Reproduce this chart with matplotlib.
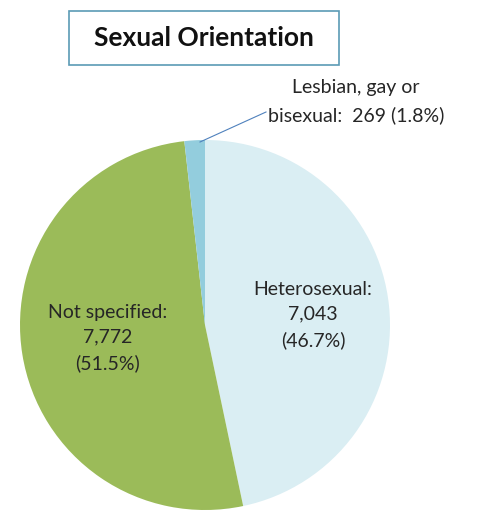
import matplotlib
matplotlib.use("Agg")
import matplotlib.pyplot as plt
from matplotlib.patches import Rectangle

categories = ["Heterosexual", "Not specified", "Lesbian, gay or bisexual"]
counts = [7043, 7772, 269]
colors = ["#DAEEF3", "#9BBB59", "#93CDDD"]
title = "Sexual Orientation"

W, H = 488, 513
fig = plt.figure(figsize=(W / 100, H / 100), dpi=100)
ax = fig.add_axes([0, 0, 1, 1])
ax.set_xlim(0, W)
ax.set_ylim(0, H)
ax.set_aspect("equal")
ax.axis("off")

total = sum(counts)
pct = [100 * c / total for c in counts]

cx, cy, r = 205, H - 325, 185
ax.pie(counts, colors=colors, startangle=90, counterclock=False,
       center=(cx, cy), radius=r, frame=False,
       wedgeprops=dict(linewidth=0))
ax.set_xlim(0, W)
ax.set_ylim(0, H)

font = "Lato"
lc = "#262626"
fs = 14

ax.text(313, H - 315, f"{categories[0]}:\n{counts[0]:,}\n({pct[0]:.1f}%)",
        ha="center", va="center", fontsize=fs, family=font, color=lc,
        linespacing=1.55)
ax.text(108, H - 338, f"{categories[1]}:\n{counts[1]:,}\n({pct[1]:.1f}%)",
        ha="center", va="center", fontsize=fs, family=font, color=lc,
        linespacing=1.55)
ax.text(356, H - 88, "Lesbian, gay or", ha="center", va="center",
        fontsize=fs, family=font, color=lc)
ax.text(268, H - 115, f"bisexual:  {counts[2]} ({pct[2]:.1f}%)",
        ha="left", va="center", fontsize=fs, family=font, color=lc)
ax.plot([200, 266], [H - 142, H - 112], color="#4F81BD", lw=0.8)

# title box
ax.add_patch(Rectangle((69, H - 65), 270, 54, facecolor="white",
                       edgecolor="#5B9BB5", lw=1.2))
ax.text(204, H - 38, title, ha="center", va="center", fontsize=19,
        fontweight="bold", family=font, color="#111111")

fig.savefig("out.png", dpi=100)
